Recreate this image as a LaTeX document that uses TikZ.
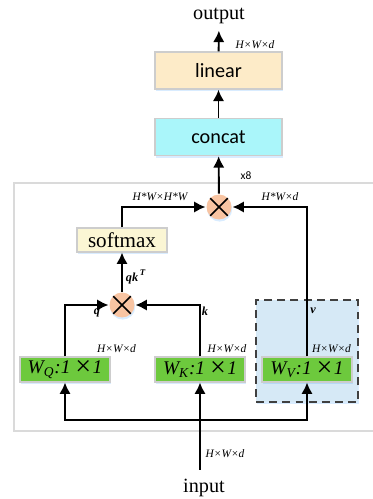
\documentclass[tikz,border=0pt]{standalone}
\usepackage{fontspec}
\setmainfont{Liberation Serif}
\setsansfont{Carlito}
\usetikzlibrary{positioning, arrows.meta, shadows}

\definecolor{linearfill}{RGB}{253,235,200}
\definecolor{concatfill}{RGB}{170,246,250}
\definecolor{softfill}{RGB}{251,246,212}
\definecolor{convfill}{RGB}{109,201,61}
\definecolor{mulfill}{RGB}{248,196,162}
\definecolor{vfill}{RGB}{214,233,246}
\definecolor{framegray}{RGB}{218,218,218}
\definecolor{boxgray}{RGB}{205,205,205}

\tikzset{
    glow/.style={drop shadow={shadow xshift=0.4pt, shadow yshift=-1.2pt,
        fill=blue!50!cyan, opacity=0.15}},
    block/.style={draw=boxgray, line width=0.8pt, glow, minimum width=2.54cm,
        minimum height=0.74cm, font=\sffamily\fontsize{11.5}{12}\selectfont},
    conv/.style={draw=boxgray, line width=0.6pt, fill=convfill, glow,
        minimum width=1.8cm, minimum height=0.5cm, inner sep=0pt,
        font=\fontsize{11}{12}\selectfont\itshape},
    mul/.style={circle, fill=mulfill, glow, minimum size=0.5cm, inner sep=0pt,
        path picture={\draw[line width=0.9pt]
            (path picture bounding box.north west) -- (path picture bounding box.south east)
            (path picture bounding box.north east) -- (path picture bounding box.south west);}},
    dim/.style={font=\fontsize{6.5}{7}\selectfont\itshape, inner sep=0pt},
    vec/.style={font=\fontsize{7}{8}\selectfont\bfseries\itshape, inner sep=0pt},
    io/.style={font=\fontsize{11.5}{12}\selectfont}
}

\newcommand{\bigx}{\,\raisebox{-0.28ex}{\scalebox{1.45}{×}}}

\begin{document}
\begin{tikzpicture}[>={Latex[length=6.5pt,width=6.5pt]}, line width=1.1pt]

    \useasboundingbox (0,0) rectangle (7.46,9.98);

    % Attention frame (open on the right)
    \draw[framegray, line width=1.3pt] (7.6,6.32) -- (0.28,6.32) -- (0.28,1.36) -- (7.6,1.36);

    % Value branch
    \node[draw=black!75, dash pattern=on 4.5pt off 3pt, line width=1pt, fill=vfill, glow,
        minimum width=2.04cm, minimum height=2.04cm] (vbox) at (6.14,2.96) {};

    % Output stage
    \node[io] (out) at (4.38,9.66) {output};
    \node[block, fill=linearfill] (linear) at (4.37,8.57) {linear};
    \node[block, fill=concatfill] (concat) at (4.37,7.24) {concat};

    % Products and softmax
    \node[mul] (mul) at (4.38,5.84) {};
    \node[draw=boxgray, line width=0.6pt, fill=softfill, glow, minimum width=1.8cm,
        minimum height=0.48cm, inner sep=1pt, font=\fontsize{12}{12}\selectfont]
        (softmax) at (2.44,5.18) {softmax};
    \node[mul] (qk) at (2.44,3.88) {};

    % 1x1 convolutions
    \node[conv] (Wq) at (1.30,2.59) {W\textsubscript{Q}:1\bigx1};
    \node[conv] (Wk) at (4.00,2.59) {W\textsubscript{K}:1\bigx1};
    \node[conv] (Wv) at (6.14,2.59) {W\textsubscript{V}:1\bigx1};

    % Input
    \node[io] (in) at (4.08,0.22) {input};
    \coordinate (inend) at (4.00,0.58);
    \coordinate (split) at (4.00,1.58);

    % Labels
    \node[dim] (dout) at (5.10,9.08) {H×W×d};
    \node[font=\sffamily\fontsize{6.5}{7}\selectfont, inner sep=0pt] (heads) at (4.92,6.46) {x8};
    \node[dim] (dsoft) at (3.20,6.04) {H*W×H*W};
    \node[dim] (dval) at (5.60,6.04) {H*W×d};
    \node[vec] (lqk) at (2.72,4.44) {qk\textsuperscript{\,T}};
    \node[vec] (lq) at (1.94,3.72) {q};
    \node[vec] (lk) at (4.10,3.76) {k};
    \node[vec] (lv) at (6.26,3.76) {v};
    \node[dim] (dq) at (2.33,3.01) {H×W×d};
    \node[dim] (dk) at (4.54,3.01) {H×W×d};
    \node[dim] (dv) at (6.63,3.01) {H×W×d};
    \node[dim] (din) at (4.50,0.90) {H×W×d};

    % Connectors
    \draw[->] (linear) -- (out);
    \draw[->] (concat) -- (linear);
    \draw[->] (mul) -- (concat);
    \draw[->] (softmax.north) |- (mul.west);
    \draw[->] (Wv.north) |- (mul.east);
    \draw[->] (qk) -- (softmax);
    \draw[->] (Wq.north) |- (qk.west);
    \draw[->] (Wk.north) |- (qk.east);
    \draw[->] (inend) -- (Wk.south);
    \draw[->] (split) -| (Wq.south);
    \draw[->] (split) -| (Wv.south);

\end{tikzpicture}
\end{document}
